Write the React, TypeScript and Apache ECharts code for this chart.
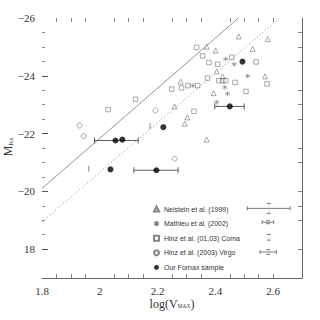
import React, { useEffect, useRef } from "react";
import * as echarts from "echarts";

// ---- data ----
const neistein: number[][] = [
  [2.481, -25.36], [2.581, -25.27], [2.370, -25.01], [2.401, -24.87], [2.529, -24.93],
  [2.405, -24.15], [2.572, -23.98], [2.425, -23.98], [2.280, -23.80], [2.394, -23.40],
  [2.259, -22.94], [2.303, -22.56], [2.294, -22.34], [2.370, -21.79],
];
const mathieu: number[][] = [
  [2.436, -24.58], [2.465, -24.40], [2.512, -23.99], [2.433, -23.60], [2.442, -23.38],
  [2.405, -23.09], [2.322, -23.66],
];
const coma: number[][] = [
  [2.335, -24.98], [2.356, -24.69], [2.457, -24.64], [2.378, -24.46], [2.408, -24.40],
  [2.541, -24.48], [2.373, -23.92], [2.412, -23.83], [2.426, -23.83], [2.436, -23.83],
  [2.468, -23.77], [2.579, -23.72], [2.249, -23.54], [2.283, -23.58], [2.305, -23.66],
  [2.339, -23.66], [2.506, -23.46], [2.326, -22.77], [2.029, -22.83], [2.124, -23.19],
];
const virgo: number[][] = [
  [1.930, -22.28], [1.944, -21.91], [2.193, -22.80], [2.259, -21.13],
];
const fornax: number[][] = [
  [2.0545, -21.76], [2.078, -21.79], [2.037, -20.76], [2.196, -20.73],
  [2.220, -22.22], [2.450, -22.94], [2.494, -24.49],
];
// x, y, xLow, xHigh
const fornaxErr: number[][] = [
  [2.0545, -21.76, 1.982, 2.133],
  [2.196, -20.73, 2.118, 2.271],
  [2.450, -22.94, 2.398, 2.500],
];
const thinMarks: number[][] = [[1.962, -20.78], [2.174, -22.25]];
// typical errors shown next to legend: x, y, xErr, yErr
const legendErr: number[][] = [
  [2.585, -19.41, 0.074, 0.17],
  [2.582, -18.93, 0.02, 0.05],
  [2.585, -18.41, 0, 0.1],
  [2.583, -17.9, 0.028, 0.08],
];
const solidLine: number[][] = [[1.8, -20.1], [2.48, -26]];
const dottedLine: number[][] = [[1.8, -18.94], [2.622, -26]];

const seriesNames = [
  "Neistein et al. (1999)",
  "Mathieu et al. (2002)",
  "Hinz et al. (01,03) Coma",
  "Hinz et al. (2003) Virgo",
  "Our Fornax sample",
];
const xMinorTicks = [1.85, 1.9, 1.95, 2.05, 2.1, 2.15, 2.25, 2.3, 2.35, 2.45, 2.5, 2.55, 2.6];
const yLeftMajor = [-24, -22, -20, -18];
const yLeftMinor = [-25.5, -25, -24.5, -23.5, -23, -22.5, -21.5, -21, -20.5, -19.5, -19, -18.5];
const yRightTicks = [-25.5, -25, -24.5, -23.5, -23, -22.5, -21.5, -21, -20, -19.5, -19, -18];

const GREY = "#666";
const SERIF = "'Liberation Serif', 'DejaVu Serif', serif";
const SANS = "'Liberation Sans', Arial, sans-serif";

const asteriskPath = "path://M5,0L5,10M0.7,2.5L9.3,7.5M0.7,7.5L9.3,2.5";

export default function App() {
  const ref = useRef<HTMLDivElement>(null);
  useEffect(() => {
    if (!ref.current) return;
    const chart = echarts.init(ref.current, undefined, { renderer: "svg" });

    const openStyle = { color: "transparent", borderColor: GREY, borderWidth: 0.7 };

    const errRender = (params: any, api: any) => {
      const y = api.value(1);
      const p1 = api.coord([api.value(2), y]);
      const p2 = api.coord([api.value(3), y]);
      const st = { stroke: "#333", lineWidth: 0.8 };
      return {
        type: "group",
        children: [
          { type: "line", shape: { x1: p1[0], y1: p1[1], x2: p2[0], y2: p2[1] }, style: st },
          { type: "line", shape: { x1: p1[0], y1: p1[1] - 3, x2: p1[0], y2: p1[1] + 3 }, style: st },
          { type: "line", shape: { x1: p2[0], y1: p2[1] - 3, x2: p2[0], y2: p2[1] + 3 }, style: st },
        ],
      };
    };

    const legendErrRender = (params: any, api: any) => {
      const x = api.value(0);
      const y = api.value(1);
      const xe = api.value(2);
      const ye = api.value(3);
      const st = { stroke: "#444", lineWidth: 0.7 };
      const children: any[] = [];
      if (xe > 0) {
        const a = api.coord([x - xe, y]);
        const b = api.coord([x + xe, y]);
        children.push({ type: "line", shape: { x1: a[0], y1: a[1], x2: b[0], y2: b[1] }, style: st });
        children.push({ type: "line", shape: { x1: a[0], y1: a[1] - 2, x2: a[0], y2: a[1] + 2 }, style: st });
        children.push({ type: "line", shape: { x1: b[0], y1: b[1] - 2, x2: b[0], y2: b[1] + 2 }, style: st });
      }
      if (ye > 0) {
        const a = api.coord([x, y - ye]);
        const b = api.coord([x, y + ye]);
        children.push({ type: "line", shape: { x1: a[0], y1: a[1], x2: b[0], y2: b[1] }, style: { stroke: "#bbb", lineWidth: 0.5 } });
        children.push({ type: "line", shape: { x1: a[0] - 2, y1: a[1], x2: a[0] + 2, y2: a[1] }, style: st });
        children.push({ type: "line", shape: { x1: b[0] - 2, y1: b[1], x2: b[0] + 2, y2: b[1] }, style: st });
      }
      return { type: "group", children };
    };

    const tickLine = { color: "#666", width: 0.8 };

    chart.setOption({
      animation: false,
      backgroundColor: "#fff",
      grid: { left: 42, top: 18, width: 260, height: 260, containLabel: false },
      xAxis: [
        {
          type: "value", position: "bottom", min: 1.8, max: 2.7, interval: 0.2,
          axisLine: { show: true, lineStyle: { color: "#666", width: 1 } },
          axisTick: { show: true, inside: true, length: 4, customValues: xMinorTicks, lineStyle: tickLine },
          splitLine: { show: false },
          axisLabel: {
            margin: 7, fontFamily: SERIF, fontSize: 11, color: "#333", showMaxLabel: false,
            formatter: (v: number) => (v > 2.65 ? "" : String(Math.round(v * 10) / 10)),
          },
        },
        {
          type: "value", position: "top", min: 1.8, max: 2.7, interval: 0.2,
          axisLine: { show: false },
          axisTick: { show: true, inside: true, length: 4, customValues: xMinorTicks, lineStyle: tickLine },
          splitLine: { show: false },
          axisLabel: { show: false },
        },
      ],
      yAxis: [
        {
          type: "value", position: "left", inverse: true, min: -26, max: -17, interval: 2,
          axisLine: { show: false },
          axisTick: { show: true, inside: true, length: 6, customValues: yLeftMajor, lineStyle: { color: "#555", width: 1 } },
          splitLine: { show: false },
          axisLabel: {
            margin: 7, fontFamily: SERIF, fontSize: 11, color: "#333", showMaxLabel: false,
            formatter: (v: number) => {
              if (v > -17.5) return "";
              if (v === -18) return "18";
              return "\u2212" + Math.abs(v);
            },
          },
        },
        {
          type: "value", position: "left", inverse: true, min: -26, max: -17, interval: 2,
          axisLine: { show: false },
          axisTick: { show: true, inside: true, length: 3, customValues: yLeftMinor, lineStyle: tickLine },
          splitLine: { show: false },
          axisLabel: { show: false },
        },
        {
          type: "value", position: "right", inverse: true, min: -26, max: -17, interval: 2,
          axisLine: { show: true, lineStyle: { color: "#666", width: 1 } },
          axisTick: { show: true, inside: true, length: 4, customValues: yRightTicks, lineStyle: tickLine },
          splitLine: { show: false },
          axisLabel: { show: false },
        },
      ],
      legend: {
        orient: "vertical", left: 153, top: 205, padding: 0,
        itemWidth: 5, itemHeight: 5, itemGap: 6.6,
        data: seriesNames,
        textStyle: { fontFamily: SANS, fontSize: 7, color: "#333", lineHeight: 8 },
        selectedMode: false,
      },
      series: [
        {
          type: "line", data: solidLine, symbol: "none", silent: true,
          lineStyle: { color: "#777", width: 0.8, type: "solid" },
        },
        {
          type: "line", data: dottedLine, symbol: "none", silent: true,
          lineStyle: { color: "#888", width: 1, type: [1, 2.5] },
        },
        {
          name: seriesNames[0], type: "scatter", data: neistein, symbol: "triangle", symbolSize: 5,
          itemStyle: openStyle,
        },
        {
          name: seriesNames[1], type: "scatter", data: mathieu, symbol: asteriskPath, symbolSize: 5,
          itemStyle: openStyle,
        },
        {
          name: seriesNames[2], type: "scatter", data: coma, symbol: "rect", symbolSize: 4.5,
          itemStyle: openStyle,
        },
        {
          name: seriesNames[3], type: "scatter", data: virgo, symbol: "circle", symbolSize: 5,
          itemStyle: openStyle,
        },
        {
          type: "scatter", data: thinMarks, symbol: "rect", symbolSize: [1, 6],
          itemStyle: { color: "#666" },
        },
        {
          type: "custom", data: fornaxErr, renderItem: errRender,
          encode: { x: [0, 2, 3], y: 1 }, silent: true, z: 3,
        },
        {
          name: seriesNames[4], type: "scatter", data: fornax, symbol: "circle", symbolSize: 6,
          itemStyle: { color: "#000" }, z: 4,
        },
        {
          type: "custom", data: legendErr, renderItem: legendErrRender,
          encode: { x: 0, y: 1 }, silent: true,
        },
      ],
      graphic: [
        {
          type: "text", x: 172, y: 304,
          style: {
            text: "{a|log(V}{s|MAX}{a|)}",
            align: "center", verticalAlign: "middle",
            rich: {
              a: { fontFamily: SERIF, fontSize: 12, fill: "#333" },
              s: { fontFamily: SERIF, fontSize: 5.5, fill: "#333", padding: [4, 0, 0, 0] },
            },
          },
        },
        {
          type: "text", x: 8, y: 147, rotation: Math.PI / 2,
          style: {
            text: "{a|M}{s|Ks}",
            align: "center", verticalAlign: "middle",
            rich: {
              a: { fontFamily: SERIF, fontSize: 12, fill: "#333" },
              s: { fontFamily: SERIF, fontSize: 7, fill: "#333", padding: [5, 0, 0, 0] },
            },
          },
        },
      ],
    });
    return () => chart.dispose();
  }, []);
  return (
    <div
      ref={ref}
      style={{ position: "fixed", left: 0, top: 0, width: 320, height: 320 }}
    />
  );
}
